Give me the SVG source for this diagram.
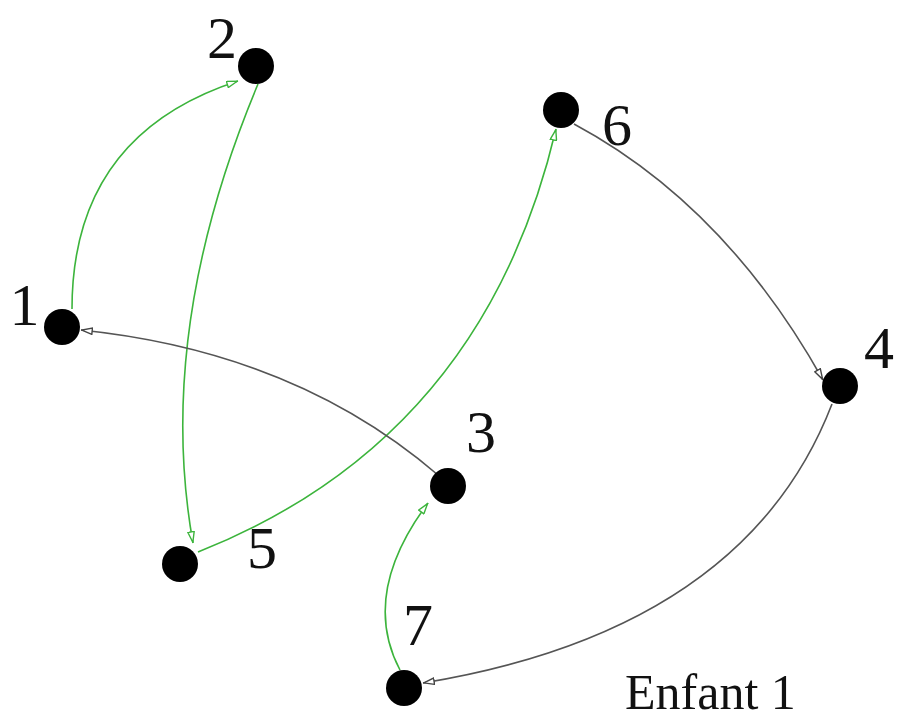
<svg xmlns="http://www.w3.org/2000/svg" width="905" height="721" viewBox="0 0 905 721">
<style>
.node{fill:#000}
.lbl{font-family:"Liberation Serif","Times New Roman",serif;font-size:60px;fill:#111;text-anchor:middle}
.cap{font-family:"Liberation Serif","Times New Roman",serif;font-size:50px;fill:#111}
.g{fill:none;stroke:#3cb43c;stroke-width:1.6}
.k{fill:none;stroke:#555;stroke-width:1.6}
</style>
<defs>
<marker id="ag" viewBox="0 0 12 8" refX="12" refY="4" markerWidth="12" markerHeight="8" markerUnits="userSpaceOnUse" orient="auto">
<path d="M0.8,0.8 L11.2,4 L0.8,7.2 Z" fill="#fff" stroke="#3cb43c" stroke-width="1.4"/>
</marker>
<marker id="ak" viewBox="0 0 12 8" refX="12" refY="4" markerWidth="12" markerHeight="8" markerUnits="userSpaceOnUse" orient="auto">
<path d="M0.8,0.8 L11.2,4 L0.8,7.2 Z" fill="#fff" stroke="#444" stroke-width="1.4"/>
</marker>
</defs>
<rect width="905" height="721" fill="#fff"/>
<g id="connectors">
<path class="g" d="M72,309 Q72,135 238,81" marker-end="url(#ag)"/>
<path class="g" d="M258,84 Q155,330 193,543" marker-end="url(#ag)"/>
<path class="g" d="M198,552 Q483,439 556,129" marker-end="url(#ag)"/>
<path class="g" d="M400,670 Q360,594 428,503" marker-end="url(#ag)"/>
<path class="k" d="M438,475 Q295,352 81,330" marker-end="url(#ak)"/>
<path class="k" d="M574,124 Q725,205 823,380" marker-end="url(#ak)"/>
<path class="k" d="M832,404 Q745,630 423,683" marker-end="url(#ak)"/>
</g>
<g id="n1"><circle class="node" cx="62" cy="327" r="18"/><text class="lbl" x="24.5" y="325">1</text></g>
<g id="n2"><circle class="node" cx="256" cy="66" r="18"/><text class="lbl" x="222" y="58">2</text></g>
<g id="n6"><circle class="node" cx="561" cy="110" r="18"/><text class="lbl" x="617" y="145">6</text></g>
<g id="n4"><circle class="node" cx="840" cy="386" r="18"/><text class="lbl" x="879" y="368">4</text></g>
<g id="n3"><circle class="node" cx="448" cy="486" r="18"/><text class="lbl" x="481" y="452">3</text></g>
<g id="n5"><circle class="node" cx="180" cy="564" r="18"/><text class="lbl" x="262" y="568">5</text></g>
<g id="n7"><circle class="node" cx="404" cy="688" r="18"/><text class="lbl" x="418" y="645">7</text></g>
<g id="caption"><text class="cap" x="625" y="709">Enfant 1</text></g>
</svg>
